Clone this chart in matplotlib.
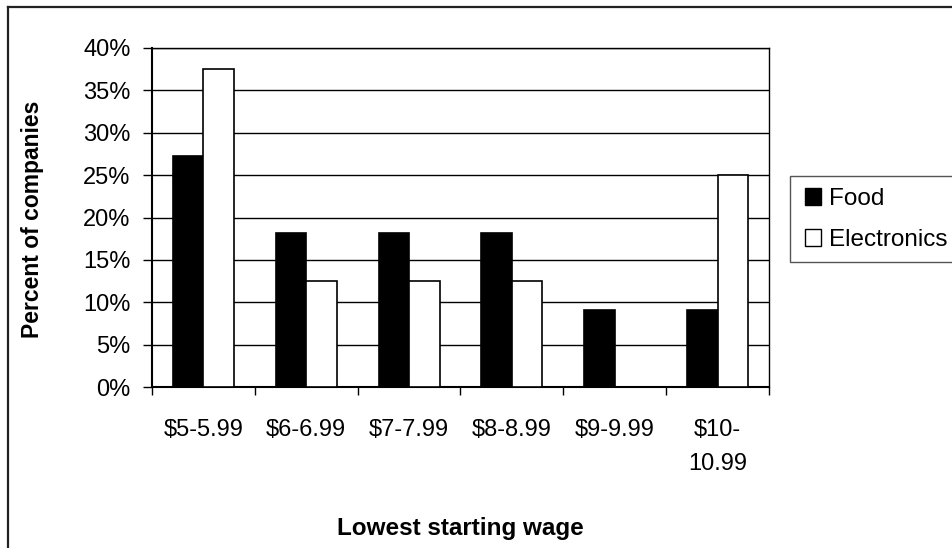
import matplotlib
matplotlib.use("Agg")
import matplotlib.pyplot as plt
from matplotlib.patches import Rectangle, Patch
from matplotlib.lines import Line2D
from matplotlib.ticker import PercentFormatter, FixedLocator
import numpy as np

plt.rcParams['font.family'] = ['Liberation Sans', 'DejaVu Sans']

categories = ["$5-5.99", "$6-6.99", "$7-7.99", "$8-8.99", "$9-9.99", "$10-\n10.99"]
food = [27.3, 18.2, 18.2, 18.2, 9.1, 9.1]
electronics = [37.5, 12.5, 12.5, 12.5, 0.0, 25.0]
series_names = ["Food", "Electronics"]
y_ticks = [0, 5, 10, 15, 20, 25, 30, 35, 40]

W, H = 953, 548
fig = plt.figure(figsize=(W / 100, H / 100), dpi=100)

def px_box(l, t, r, b):
    return [l / W, 1 - b / H, (r - l) / W, (b - t) / H]

ax = fig.add_axes(px_box(152, 48, 769, 387))

x = np.arange(len(categories))
w = 0.297
ax.bar(x - w / 2, food, width=w, color="black", edgecolor="black", linewidth=1.2, zorder=3)
ax.bar(x + w / 2, electronics, width=w, color="white", edgecolor="black", linewidth=1.2, zorder=3)

ax.set_xlim(-0.5, len(categories) - 0.5)
ax.set_ylim(0, 40)
ax.yaxis.set_major_locator(FixedLocator(y_ticks))
ax.yaxis.set_major_formatter(PercentFormatter(decimals=0))
ax.yaxis.grid(True, color="black", linewidth=1.0, zorder=0)
ax.set_axisbelow(True)

ax.set_xticks(x)
ax.set_xticklabels(categories, fontsize=17, linespacing=1.72)
ax.set_xticks(np.arange(len(categories) + 1) - 0.5, minor=True)
ax.tick_params(axis="x", which="major", length=0, pad=23)
ax.tick_params(axis="x", which="minor", length=6, width=1, direction="out")
ax.tick_params(axis="y", length=6.5, width=1, direction="out", labelsize=17, pad=9)

for s in ax.spines.values():
    s.set_color("black")
    s.set_linewidth(1.0)
ax.spines["left"].set_linewidth(1.5)
ax.spines["bottom"].set_linewidth(1.5)

fig.text(33 / W, 1 - 219 / H, "Percent of companies", rotation=90,
         ha="center", va="center", fontsize=16.5, fontweight="bold")
fig.text(460 / W, 1 - 535 / H, "Lowest starting wage",
         ha="center", va="baseline", fontsize=17.5, fontweight="bold")

# Legend: boxed, running off the right edge of the figure
fig.patches.append(Rectangle((790 / W, 1 - 262 / H), 200 / W, 86 / H,
                             transform=fig.transFigure, facecolor="white",
                             edgecolor="#555555", linewidth=1.0, zorder=1))
handles = [Patch(facecolor="black", edgecolor="black", linewidth=1.0),
           Patch(facecolor="white", edgecolor="black", linewidth=1.0)]
fig.legend(handles, series_names, loc="upper left",
           bbox_to_anchor=(805 / W, 1 - 188 / H), frameon=False,
           fontsize=17.5, handlelength=0.66, handleheight=0.66,
           handletextpad=0.33, labelspacing=0.78, borderpad=0, borderaxespad=0)

# Outer chart border (top and left edges)
fig.add_artist(Line2D([8 / W, 1], [1 - 6.5 / H, 1 - 6.5 / H], transform=fig.transFigure,
                      color="#222222", linewidth=1.6))
fig.add_artist(Line2D([8 / W, 8 / W], [0, 1 - 6.5 / H], transform=fig.transFigure,
                      color="#222222", linewidth=1.6))

fig.savefig("out.png", dpi=100, facecolor="white")
